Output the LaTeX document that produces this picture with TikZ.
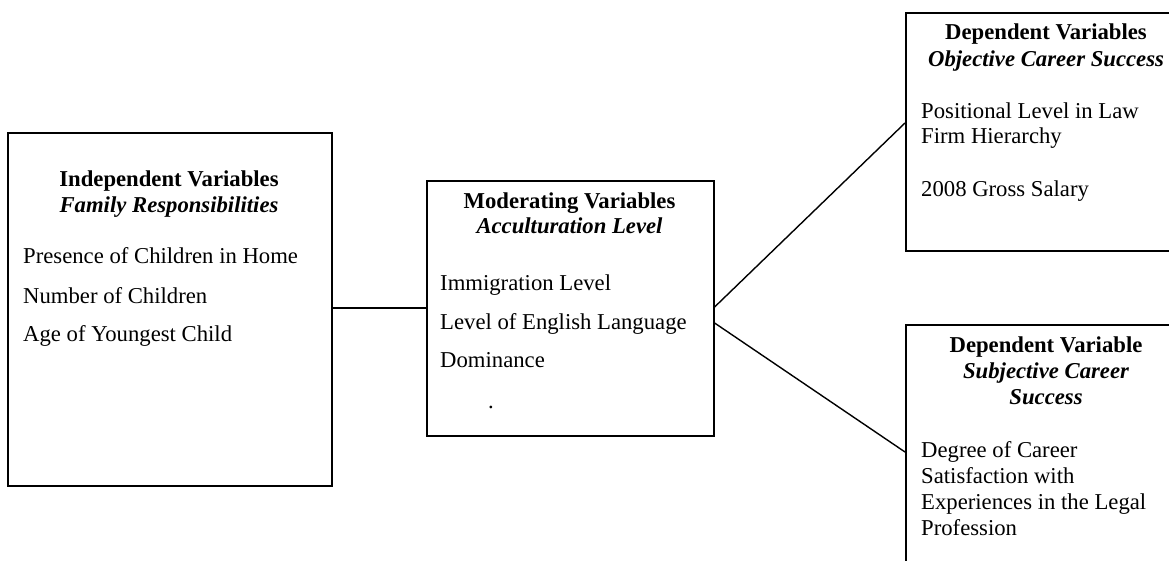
\documentclass[tikz,border=0pt]{standalone}
\usepackage{fontspec}
\setmainfont{Liberation Serif}
\begin{document}
\begin{tikzpicture}[x=1pt,y=-1pt,
  box/.style={draw, line width=1.6pt, anchor=north west, inner sep=0pt},
  conn/.style={draw, line width=1.4pt},
  body/.style={anchor=base west, inner sep=0pt, font=\fontsize{22.7}{26}\selectfont},
  ttl/.style={anchor=base, inner sep=0pt, font=\fontsize{22.7}{26}\selectfont\bfseries},
  ttli/.style={anchor=base, inner sep=0pt, font=\fontsize{22.7}{26}\selectfont\bfseries\itshape}]
\useasboundingbox (0,0) rectangle (1169,561);
\clip (0,0) rectangle (1169,561);
\fill[white] (0,0) rectangle (1169,561);

% boxes
\node[box, minimum width=324pt, minimum height=353pt] (ind) at (7,132) {};
\node[box, minimum width=287pt, minimum height=255pt] (mod) at (426,180) {};
\node[box, minimum width=282pt, minimum height=238pt] (obj) at (905,12) {};
\node[box, minimum width=282pt, minimum height=260pt] (sub) at (905,324) {};

% independent
\node[ttl]  (i1) at (169,187) {Independent Variables};
\node[ttli] (i2) at (169,213) {Family Responsibilities};
\node[body] (i3) at (23,264) {Presence of Children in Home};
\node[body] (i4) at (23,303) {Number of Children};
\node[body] (i5) at (23,341) {Age of Youngest Child};

% moderating
\node[ttl]  (m1) at (569.5,209) {Moderating Variables};
\node[ttli] (m2) at (569.5,234) {Acculturation Level};
\node[body] (m3) at (440,290) {Immigration Level};
\node[body] (m4) at (440,329) {Level of English Language};
\node[body] (m5) at (440,367) {Dominance};
\node[body] (m6) at (488,408) {.};

% objective
\node[ttl]  (o1) at (1046,40) {Dependent Variables};
\node[ttli] (o2) at (1046,67) {Objective Career Success};
\node[body] (o3) at (921,119) {Positional Level in Law};
\node[body] (o4) at (921,144) {Firm Hierarchy};
\node[body] (o5) at (921,197) {2008 Gross Salary};

% subjective
\node[ttl]  (s1) at (1046,352) {Dependent Variable};
\node[ttli] (s2) at (1046,378) {Subjective Career};
\node[ttli] (s3) at (1046,404) {Success};
\node[body] (s4) at (921,457) {Degree of Career};
\node[body] (s5) at (921,483) {Satisfaction with};
\node[body] (s6) at (921,509) {Experiences in the Legal};
\node[body] (s7) at (921,535) {Profession};

% connectors
\draw[conn] (ind.east |- 0,308) -- (mod.west |- 0,308);
\draw[conn] (mod.east |- 0,307) -- (obj.west |- 0,123);
\draw[conn] (mod.east |- 0,323) -- (sub.west |- 0,452);
\end{tikzpicture}
\end{document}
